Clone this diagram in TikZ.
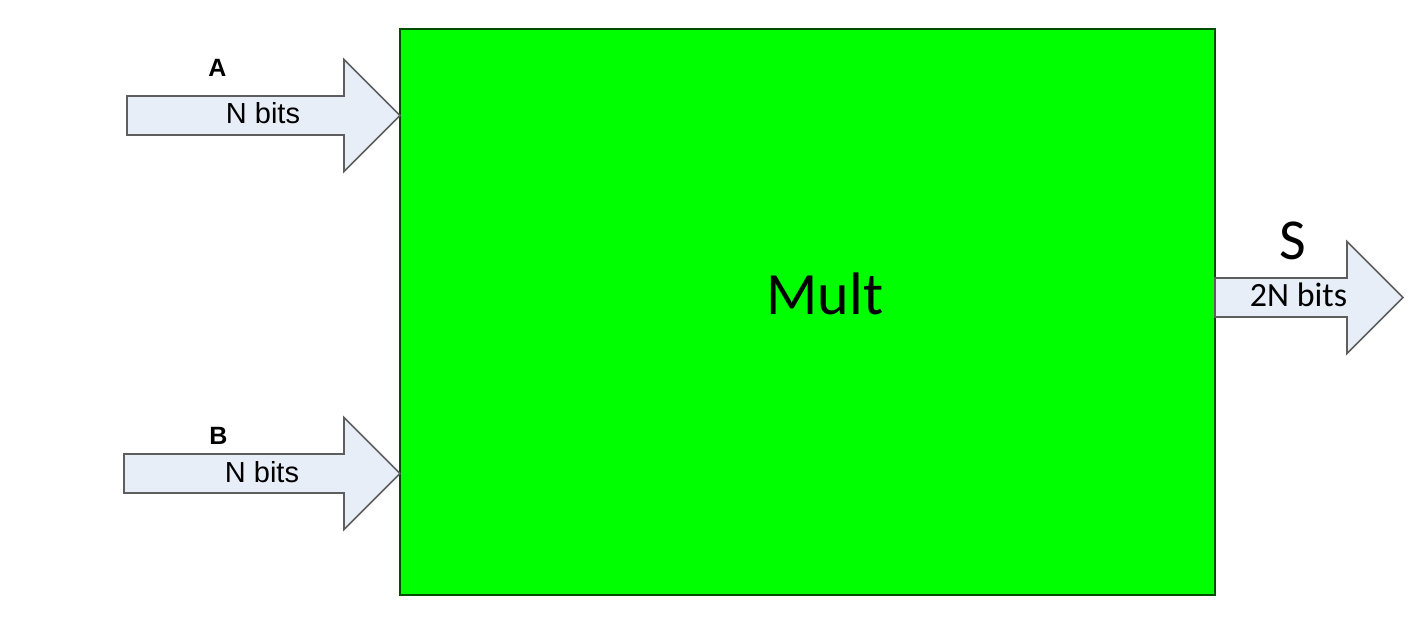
\documentclass[tikz,border=0pt]{standalone}
\usepackage{fontspec}
\setmainfont{Liberation Sans}
\newfontfamily\calibri{Carlito}
\usepackage{tikz}
\definecolor{busfill}{HTML}{E8EEF8}
\definecolor{busline}{HTML}{5E5E5E}
\definecolor{multgreen}{HTML}{00FF00}
\tikzset{
  bus/.style={fill=busfill, draw=busline, line width=0.8pt, line join=miter},
  multbox/.style={fill=multgreen, draw=green!30!black, line width=0.6pt,
    minimum width=407.5pt, minimum height=283pt, inner sep=0pt},
  txt/.style={anchor=base, inner sep=0pt}
}
% wide bus arrow: left x, middle y, tip x
\newcommand{\busarrow}[3]{%
  \draw[bus] (#1,#2-19.5) -- (#3-56,#2-19.5) -- (#3-56,#2-56) -- (#3,#2)
    -- (#3-56,#2+56) -- (#3-56,#2+19.5) -- (#1,#2+19.5) -- cycle;}
\begin{document}
\begin{tikzpicture}[x=0.5pt, y=-0.5pt]
\useasboundingbox (0,0) rectangle (1423,628);
\node[multbox] (mult) at (807.5,312) {};
\node[txt, font=\calibri\fontsize{30}{30}\selectfont] (multlbl) at (825,314) {Mult};

% inputs
\busarrow{127}{115.5}{400}
\node[txt, font=\bfseries\fontsize{12.5}{12.5}\selectfont] (alabel) at (217.5,76) {A};
\node[txt, font=\fontsize{14.5}{14.5}\selectfont] (abits) at (263,123) {N bits};

\busarrow{124}{473.5}{400}
\node[txt, font=\bfseries\fontsize{12.5}{12.5}\selectfont] (blabel) at (218.5,444) {B};
\node[txt, font=\fontsize{14.5}{14.5}\selectfont] (bbits) at (262,482) {N bits};

% output
\busarrow{1215}{297.5}{1403}
\node[txt, font=\calibri\fontsize{29}{29}\selectfont] (slabel) at (1292.5,259) {S};
\node[txt, font=\calibri\fontsize{17}{17}\selectfont] (sbits) at (1298.5,306) {2N bits};
\end{tikzpicture}
\end{document}
